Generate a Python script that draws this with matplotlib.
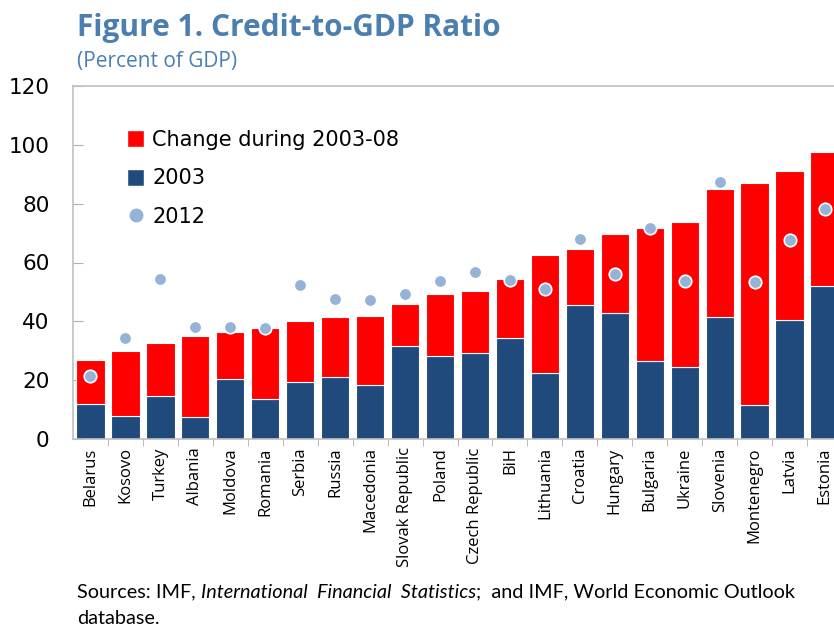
import matplotlib.pyplot as plt
from matplotlib.patches import Patch
from matplotlib.lines import Line2D

countries = ["Belarus", "Kosovo", "Turkey", "Albania", "Moldova", "Romania", "Serbia",
             "Russia", "Macedonia", "Slovak Republic", "Poland", "Czech Republic", "BiH",
             "Lithuania", "Croatia", "Hungary", "Bulgaria", "Ukraine", "Slovenia",
             "Montenegro", "Latvia", "Estonia"]
# credit-to-GDP in 2003, 2008 (top of stacked bar) and 2012
ratio_2003 = [11.9, 7.8, 14.7, 7.5, 20.3, 13.7, 19.3, 21.2, 18.4, 31.6, 28.1,
              29.1, 34.3, 22.5, 45.5, 42.7, 26.4, 24.5, 41.4, 11.4, 40.4, 52.1]
ratio_2008 = [26.9, 29.9, 32.5, 35.1, 36.4, 37.7, 40.0, 41.6, 41.9, 45.9, 49.4,
              50.4, 54.4, 62.5, 64.7, 69.7, 71.7, 73.9, 85.0, 86.9, 91.2, 97.7]
ratio_2012 = [21.4, 34.2, 54.3, 38.2, 38.0, 37.8, 52.2, 47.6, 47.4, 49.2, 53.6,
              56.7, 54.2, 51.0, 67.9, 56.1, 71.6, 53.6, 87.3, 53.3, 67.5, 78.1]

change = [b - a for a, b in zip(ratio_2003, ratio_2008)]

RED = "#ff0000"
NAVY = "#214a7c"
DOT = "#95b3d7"
TITLE_COL = "#4a7fb0"

fig = plt.figure(figsize=(8.34, 6.27), dpi=100)
ax = fig.add_axes([73 / 834, 1 - 439 / 627, (842 - 73) / 834, (439 - 86) / 627])

x = list(range(len(countries)))
ax.bar(x, ratio_2003, width=0.81, color=NAVY, edgecolor="white", linewidth=0.8, zorder=2)
ax.bar(x, change, bottom=ratio_2003, width=0.81, color=RED, edgecolor="white",
       linewidth=0.8, zorder=2)
ax.plot(x, ratio_2012, "o", color=DOT, markersize=9, markeredgecolor="white",
        markeredgewidth=1.2, zorder=3)

ax.set_xlim(-0.5, len(countries) - 0.5)
ax.set_ylim(0, 120)
ax.set_yticks(range(0, 121, 20))
ax.tick_params(axis="y", direction="in", length=7, color="#b0b0b0", labelsize=15.5, pad=17)
ax.set_xticks(x)
ax.set_xticklabels(countries, rotation=90, fontsize=12, family="Open Sans")
ax.tick_params(axis="x", length=0, pad=6)
ax.set_xticks([i + 0.5 for i in x], minor=True)
ax.tick_params(axis="x", which="minor", direction="out", length=5, color="#b0b0b0")

for side in ["left", "bottom", "top", "right"]:
    ax.spines[side].set_color("#c0c0c0")
    ax.spines[side].set_linewidth(1.2)

handles = [Patch(facecolor=RED, edgecolor="white"),
           Patch(facecolor=NAVY, edgecolor="white"),
           Line2D([], [], marker="o", linestyle="none", color=DOT, markersize=9)]
ax.legend(handles, ["Change during 2003-08", "2003", "2012"], loc="upper left",
          bbox_to_anchor=(0.06, 0.9), frameon=False, fontsize=15, labelspacing=0.9,
          handlelength=0.8, handleheight=0.9, handletextpad=0.4, borderaxespad=0)

fig.text(77 / 834, 1 - 28 / 627, "Figure 1. Credit-to-GDP Ratio", fontsize=21.5,
         fontweight="bold", color=TITLE_COL, family="Open Sans", va="center")
fig.text(77 / 834, 1 - 62 / 627, "(Percent of GDP)", fontsize=15, color=TITLE_COL,
         family="Open Sans", va="center")

# source note: plain / italic / plain pieces placed one after another
renderer = fig.canvas.get_renderer()
xpos = 77 / 834
pieces = [("Sources: IMF, ", "normal"), ("International  Financial  Statistics", "italic"),
          (";  and IMF, World Economic Outlook", "normal")]
for txt, style in pieces:
    t = fig.text(xpos, 1 - 592 / 627, txt, fontsize=14.3, family="Lato", style=style,
                 va="center")
    bb = t.get_window_extent(renderer=renderer)
    xpos = bb.x1 / fig.bbox.width
fig.text(77 / 834, 1 - 619 / 627, "database.", fontsize=14.3, family="Lato", va="center")

fig.savefig("out.png", dpi=100)
